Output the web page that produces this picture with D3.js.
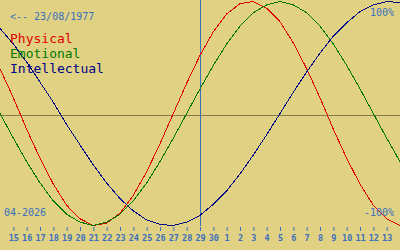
<!DOCTYPE html>
<html>
<head>
<meta charset="utf-8">
<script src="https://cdn.jsdelivr.net/npm/d3@7"></script>
<style>
  html, body { margin: 0; padding: 0; background: #e0d282; overflow: hidden; }
  text { font-family: "DejaVu Sans Mono", monospace; }
</style>
</head>
<body>
<div id="chart"></div>
<script>
var width = 400;
var height = 250;

// one point per day, 14 April .. 14 May 2026
var dayLabels = ["14", "15", "16", "17", "18", "19", "20", "21", "22", "23", "24", "25", "26", "27", "28",
  "29", "30", "1", "2", "3", "4", "5", "6", "7", "8", "9", "10", "11", "12", "13", "14"];

var physical = [0.40, 0.14, -0.14, -0.40, -0.63, -0.82, -0.94, -1.00, -0.98, -0.89, -0.73, -0.52, -0.27, 0.00,
  0.27, 0.52, 0.73, 0.89, 0.98, 1.00, 0.94, 0.82, 0.63, 0.40, 0.14, -0.14, -0.40, -0.63, -0.82, -0.94, -1.00];

var emotional = [0.00, -0.22, -0.43, -0.62, -0.78, -0.90, -0.97, -1.00, -0.97, -0.90, -0.78, -0.62, -0.43, -0.22,
  0.00, 0.22, 0.43, 0.62, 0.78, 0.90, 0.97, 1.00, 0.97, 0.90, 0.78, 0.62, 0.43, 0.22, 0.00, -0.22, -0.43];

var intellectual = [0.76, 0.62, 0.46, 0.28, 0.10, -0.10, -0.28, -0.46, -0.62, -0.76, -0.87, -0.95, -0.99, -1.00,
  -0.97, -0.91, -0.81, -0.69, -0.54, -0.37, -0.19, 0.00, 0.19, 0.37, 0.54, 0.69, 0.81, 0.91, 0.97, 1.00, 0.99];

var todayIndex = 15; // 29/04
var birthLabel = "<-- 23/08/1977";
var monthLabel = "04-2026";

var series = [
  { name: "Physical", values: physical, color: "#e00000" },
  { name: "Emotional", values: emotional, color: "#007800" },
  { name: "Intellectual", values: intellectual, color: "#000088" }
];

var svg = d3.select("#chart")
    .append("svg")
    .attr("width", width)
    .attr("height", height);

var x = d3.scaleLinear()
    .domain([0, dayLabels.length - 1])
    .range([0, width]);

var y = d3.scaleLinear()
    .domain([-1, 1])
    .range([225.5, 1.5]);

// zero line
svg.append("line")
    .attr("x1", 0).attr("x2", width)
    .attr("y1", 115.5).attr("y2", 115.5)
    .attr("stroke", "#857a48")
    .attr("stroke-width", 1);

// today
svg.append("line")
    .attr("x1", x(todayIndex) + 0.5).attr("x2", x(todayIndex) + 0.5)
    .attr("y1", 0).attr("y2", 226)
    .attr("stroke", "#3a6fc0")
    .attr("stroke-width", 1);

// day axis
var tickIdx = d3.range(1, dayLabels.length - 1);
var axis = svg.append("g")
    .attr("transform", "translate(0, 227)")
    .call(d3.axisBottom(x)
        .tickValues(tickIdx)
        .tickFormat(function (i) { return dayLabels[i]; })
        .tickSize(4)
        .tickPadding(4));
axis.select(".domain").remove();
axis.selectAll(".tick line").attr("stroke", "#3a6fc0");
axis.selectAll(".tick text")
    .attr("fill", "#3a6fc0")
    .style("font-family", "'DejaVu Sans Mono', monospace")
    .style("font-size", "8.5px")
    .style("font-weight", "bold");

var line = d3.line()
    .x(function (d, i) { return x(i); })
    .y(function (d) { return y(d); });

svg.append("g")
    .selectAll("path")
    .data(series)
    .enter()
    .append("path")
    .attr("d", function (d) { return line(d.values); })
    .attr("fill", "none")
    .attr("stroke", function (d) { return d.color; })
    .attr("stroke-width", 1)
    .style("shape-rendering", "crispEdges");

// texts
svg.append("text")
    .attr("x", 10).attr("y", 20)
    .attr("fill", "#3a6fc0")
    .style("font-size", "10px")
    .text(birthLabel);

svg.selectAll(".legend")
    .data(series)
    .enter()
    .append("text")
    .attr("x", 10)
    .attr("y", function (d, i) { return 42.5 + i * 15; })
    .attr("fill", function (d) { return d.color; })
    .style("font-size", "13px")
    .text(function (d) { return d.name; });

svg.append("text")
    .attr("x", 394).attr("y", 16)
    .attr("text-anchor", "end")
    .attr("fill", "#3a6fc0")
    .style("font-size", "10px")
    .text("100%");

svg.append("text")
    .attr("x", 394).attr("y", 216)
    .attr("text-anchor", "end")
    .attr("fill", "#3a6fc0")
    .style("font-size", "10px")
    .text("-100%");

svg.append("text")
    .attr("x", 4).attr("y", 216)
    .attr("fill", "#3a6fc0")
    .style("font-size", "10px")
    .text(monthLabel);
</script>
</body>
</html>
